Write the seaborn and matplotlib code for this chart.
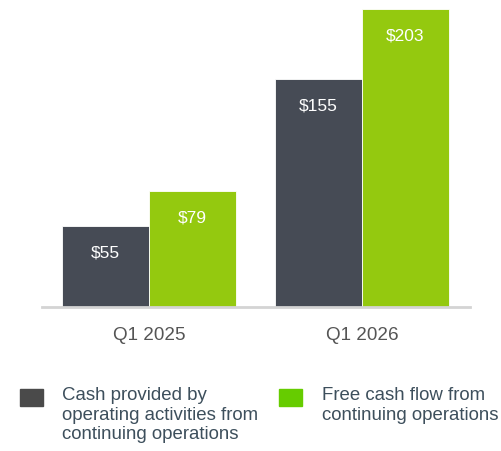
import matplotlib
matplotlib.use('Agg')
import matplotlib.pyplot as plt
from matplotlib.patches import Rectangle
import pandas as pd
import seaborn as sns

# data
quarters = ['Q1 2025', 'Q1 2026']
series_names = ['Cash provided by\noperating activities from\ncontinuing operations',
                'Free cash flow from\ncontinuing operations']
cash_ops = [55, 155]
free_cash = [79, 203]

bar_colors = ['#464b55', '#94c90f']
legend_colors = ['#4a4a4a', '#66cc00']

df = pd.DataFrame({
    'quarter': quarters * 2,
    'series': [series_names[0]] * 2 + [series_names[1]] * 2,
    'value': cash_ops + free_cash,
})

sns.set_style('white')
plt.rcParams['font.family'] = ['Liberation Sans', 'DejaVu Sans']

fig = plt.figure(figsize=(5.01, 4.52), dpi=100)
ax = fig.add_axes([0.0838, 0.3186, 0.854, 0.66])

sns.barplot(data=df, x='quarter', y='value', hue='series', palette=bar_colors,
            saturation=1, width=0.82, edgecolor='white', linewidth=0.6,
            legend=False, ax=ax)

ax.set_xlim(-0.502, 1.507)
ax.set_ylim(0, 203)
ax.set_xlabel('')
ax.set_ylabel('')
ax.set_yticks([])
for side in ['top', 'left', 'right']:
    ax.spines[side].set_visible(False)
ax.spines['bottom'].set_color('#d4d4d4')
ax.spines['bottom'].set_linewidth(2)
ax.tick_params(axis='x', length=0, pad=14, labelsize=13.6, labelcolor='#555555')

# value labels inside the bars
for container in ax.containers:
    labels = ['$' + str(int(v)) for v in container.datavalues]
    ax.bar_label(container, labels=labels, label_type='edge', padding=-24,
                 color='white', fontsize=12.5)

# legend drawn by hand so the squares line up with the first text line
W, H = 501, 452
for i, (name, col) in enumerate(zip(series_names, legend_colors)):
    x0 = [20, 279][i]
    fig.patches.append(Rectangle((x0 / W, 1 - 407 / H), 23 / W, 17 / H,
                                 transform=fig.transFigure, color=col))
    fig.text([62, 322][i] / W, 1 - 387 / H, name, ha='left', va='top',
             fontsize=13.4, color='#3d4f5c', linespacing=1.2)

fig.savefig('out.png', dpi=100)
